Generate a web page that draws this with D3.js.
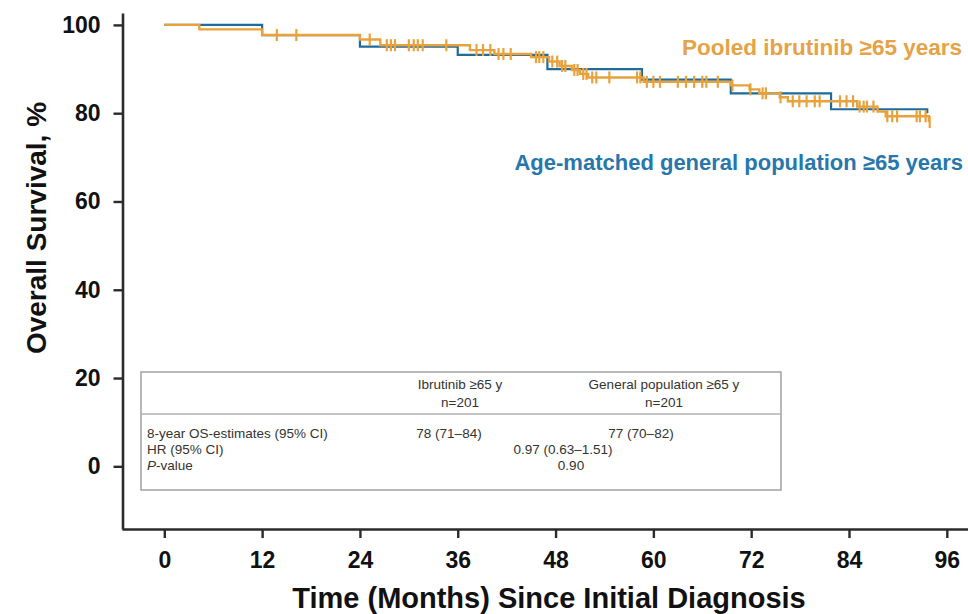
<!DOCTYPE html>
<html>
<head>
<meta charset="utf-8">
<script src="https://cdn.jsdelivr.net/npm/d3@7"></script>
<style>
  html, body { margin: 0; padding: 0; background: #fff; }
  svg { display: block; font-family: Arial, "Liberation Sans", sans-serif; }
</style>
</head>
<body>
<svg id="chart" width="968" height="614"></svg>
<script>
// Axis ticks
const monthTicks = [0, 12, 24, 36, 48, 60, 72, 84, 96];
const pctTicks = [0, 20, 40, 60, 80, 100];

// Age-matched general population ≥65 years (Kaplan–Meier steps)
const popTimes = [0, 12, 24, 36, 47, 58.6, 69.5, 81.8, 93.6];
const popSurv  = [100, 97.7, 95.1, 93.2, 90.0, 87.6, 84.5, 80.9, 80.0];

// Pooled ibrutinib ≥65 years (Kaplan–Meier steps)
const ibrTimes = [0, 4.3, 12, 24, 26.5, 37.5, 40.5, 45, 47.2, 48.5, 50, 51, 52, 58.8, 69.5, 71.8, 73, 75.5, 76.5, 85, 87.5, 88.5, 93.8];
const ibrSurv  = [100, 99.0, 97.7, 96.7, 95.4, 94.3, 93.4, 92.7, 91.7, 90.7, 89.8, 88.9, 88.1, 87.1, 86.3, 85.4, 84.5, 83.6, 82.7, 81.5, 80.4, 79.3, 78.0];

// Censoring times, ibrutinib arm
const ibrCensor = [13.8, 16.2, 25.2, 27.3, 27.8, 28.3, 30.0, 30.6, 31.1, 31.7, 34.6,
  38.3, 39.1, 40.0, 41.0, 41.6, 42.5, 45.6, 46.0, 46.5, 47.6, 48.2, 48.8, 49.2,
  50.3, 50.7, 51.4, 51.8, 52.5, 53.0, 54.6, 58.0, 58.4, 59.2, 60.0, 60.8, 63.0,
  64.0, 65.0, 66.0, 66.5, 67.9, 69.7, 71.9, 73.4, 73.8, 75.6, 77.1, 77.9, 78.8,
  79.8, 80.4, 82.9, 83.7, 84.5, 85.3, 85.8, 86.2, 87.0, 88.7, 89.3, 89.9, 92.3,
  92.7, 93.4, 93.9];

// Labels
const seriesNames = ["Pooled ibrutinib \u226565 years", "Age-matched general population \u226565 years"];
const xTitle = "Time (Months) Since Initial Diagnosis";
const yTitle = "Overall Survival, %";

// Summary table
const tableHeads = [["Ibrutinib \u226565 y", "n=201"], ["General population \u226565 y", "n=201"]];
const rowLabels = ["8-year OS-estimates (95% CI)", "HR (95% CI)", "-value"];
const rowIbr = ["78 (71\u201384)", "", ""];
const rowPop = ["77 (70\u201382)", "", ""];
const rowBoth = ["", "0.97 (0.63\u20131.51)", "0.90"];

const ORANGE = "#E9A23B";
const BLUE = "#1F6B9C";
const BLUE_TXT = "#2777AD";
const ORANGE_TXT = "#E5A246";

const svg = d3.select("#chart");

const x = d3.scaleLinear().domain([-5.19, 98.6]).range([122, 968]);
const y = d3.scaleLinear().domain([-14.2, 102.7]).range([529, 13]);

// Axes
const xAxis = d3.axisBottom(x).tickValues(monthTicks).tickSize(9).tickSizeOuter(0).tickPadding(14);
const yAxis = d3.axisLeft(y).tickValues(pctTicks).tickSize(9).tickSizeOuter(0).tickPadding(13);

const gx = svg.append("g").attr("transform", "translate(0,529)").call(xAxis);
const gy = svg.append("g").attr("transform", "translate(122.5,0)").call(yAxis);

[gx, gy].forEach(g => {
  g.select(".domain").attr("stroke", "#2b2b2b").attr("stroke-width", 2.6);
  g.selectAll(".tick line").attr("stroke", "#2b2b2b").attr("stroke-width", 2.4);
  g.selectAll(".tick text")
    .attr("fill", "#111")
    .style("font-family", "Arial, 'Liberation Sans', sans-serif")
    .style("font-weight", "bold")
    .style("font-size", "23px");
});

// Axis titles
svg.append("text")
  .attr("x", 549).attr("y", 608)
  .attr("text-anchor", "middle")
  .style("font-weight", "bold").style("font-size", "29px").attr("fill", "#111")
  .text(xTitle);

svg.append("text")
  .attr("transform", "translate(46,228) rotate(-90)")
  .attr("text-anchor", "middle")
  .style("font-weight", "bold").style("font-size", "28px").attr("fill", "#111")
  .text(yTitle);

// Summary table
const tbl = svg.append("g");
const tX0 = 141, tX1 = 781, tY0 = 372, tY1 = 490, tSep = 414;
tbl.append("rect")
  .attr("x", tX0).attr("y", tY0).attr("width", tX1 - tX0).attr("height", tY1 - tY0)
  .attr("fill", "#fff").attr("stroke", "#9a9a9a").attr("stroke-width", 1.4);
tbl.append("line")
  .attr("x1", tX0).attr("x2", tX1).attr("y1", tSep).attr("y2", tSep)
  .attr("stroke", "#b0b0b0").attr("stroke-width", 1.4);

const headIbr = 460, headPop = 664, valIbr = 449, valPop = 641, valBoth = 563;
const txtStyle = sel => sel.style("font-size", "13.5px").attr("fill", "#333");

tableHeads.forEach((lines, i) => {
  const cx = i === 0 ? headIbr : headPop;
  lines.forEach((t, j) => {
    tbl.append("text").attr("x", cx).attr("y", 389 + j * 18)
      .attr("text-anchor", "middle").call(txtStyle).text(t);
  });
});

const rowY = [438, 454, 470];
rowLabels.forEach((lab, i) => {
  const t = tbl.append("text").attr("x", 147).attr("y", rowY[i]).call(txtStyle);
  if (i === 2) {
    t.append("tspan").style("font-style", "italic").text("P");
    t.append("tspan").text(lab);
  } else {
    t.text(lab);
  }
  if (rowIbr[i]) tbl.append("text").attr("x", valIbr).attr("y", rowY[i]).attr("text-anchor", "middle").call(txtStyle).text(rowIbr[i]);
  if (rowPop[i]) tbl.append("text").attr("x", valPop).attr("y", rowY[i]).attr("text-anchor", "middle").call(txtStyle).text(rowPop[i]);
  if (rowBoth[i]) tbl.append("text").attr("x", valBoth + (i === 2 ? 8 : 0)).attr("y", rowY[i]).attr("text-anchor", "middle").call(txtStyle).text(rowBoth[i]);
});

// Survival curves
const step = d3.line().x(d => x(d[0])).y(d => y(d[1])).curve(d3.curveStepAfter);
const popPts = popTimes.map((t, i) => [t, popSurv[i]]);
const ibrPts = ibrTimes.map((t, i) => [t, ibrSurv[i]]);

svg.append("path").datum(popPts)
  .attr("d", step).attr("fill", "none")
  .attr("stroke", BLUE).attr("stroke-width", 2.2);

svg.append("path").datum(ibrPts)
  .attr("d", step).attr("fill", "none")
  .attr("stroke", ORANGE).attr("stroke-width", 2.4);

// Censor ticks placed on the ibrutinib curve
const survAt = t => ibrSurv[d3.bisectRight(ibrTimes, t) - 1];
svg.append("g").selectAll("line").data(ibrCensor).join("line")
  .attr("x1", d => x(d)).attr("x2", d => x(d))
  .attr("y1", d => y(survAt(d)) - 6).attr("y2", d => y(survAt(d)) + 6)
  .attr("stroke", ORANGE).attr("stroke-width", 2.2);

// Series labels
svg.append("text")
  .attr("x", 962).attr("y", 55).attr("text-anchor", "end")
  .style("font-weight", "bold").style("font-size", "22.5px").attr("fill", ORANGE_TXT)
  .text(seriesNames[0]);

svg.append("text")
  .attr("x", 963).attr("y", 170).attr("text-anchor", "end")
  .style("font-weight", "bold").style("font-size", "22px").attr("fill", BLUE_TXT)
  .text(seriesNames[1]);
</script>
</body>
</html>
